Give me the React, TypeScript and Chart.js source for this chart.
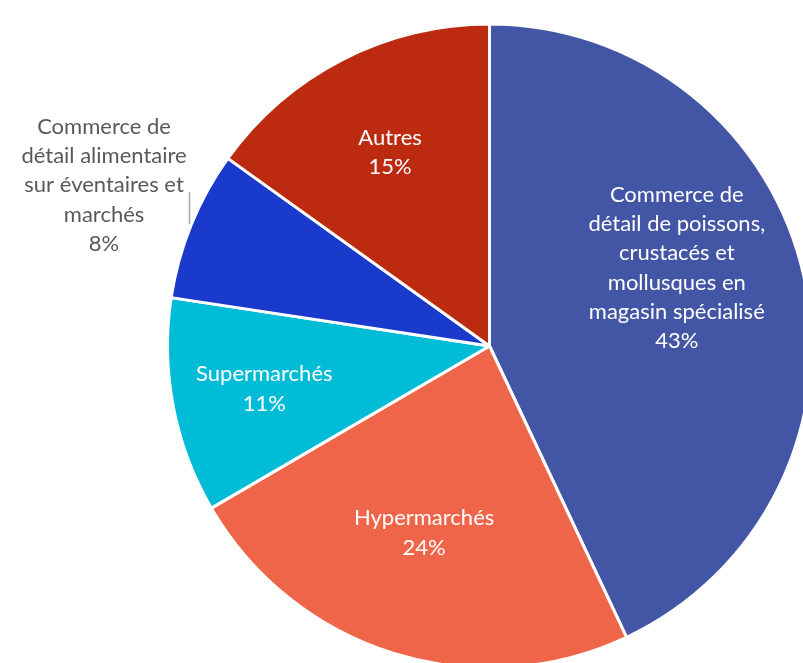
import React, { useEffect, useRef } from "react";
import { Chart, registerables } from "chart.js";

Chart.register(...registerables);

const categories: string[][] = [
  ["Commerce de", "détail de poissons,", "crustacés et", "mollusques en", "magasin spécialisé"],
  ["Hypermarchés"],
  ["Supermarchés"],
  ["Commerce de", "détail alimentaire", "sur éventaires et", "marchés"],
  ["Autres"],
];
const shares: number[] = [43.0, 23.6, 10.8, 7.5, 15.1];
const colors: string[] = ["#4355A5", "#EF6549", "#00BCD6", "#1A3ACB", "#BC2A10"];
const labelInside: boolean[] = [true, true, true, false, true];
const labelRadius: number[] = [0.63, 0.615, 0.712, 1.297, 0.676];
const labelShiftDeg: number[] = [-10, 2, 0, 0.5, 0];

const FONT = "22px Lato, 'Open Sans', sans-serif";
const LINE_H = 29.3;

const labelPlugin = {
  id: "pieLabels",
  afterDatasetsDraw(chart: any) {
    const ctx = chart.ctx as CanvasRenderingContext2D;
    const meta = chart.getDatasetMeta(0);
    const total = shares.reduce((a, b) => a + b, 0);
    ctx.save();
    ctx.font = FONT;
    ctx.textAlign = "center";
    ctx.textBaseline = "middle";
    meta.data.forEach((arc: any, i: number) => {
      const p = arc.getProps(["x", "y", "startAngle", "endAngle", "outerRadius"], true);
      const mid = (p.startAngle + p.endAngle) / 2 + (labelShiftDeg[i] * Math.PI) / 180;
      const r = p.outerRadius * labelRadius[i];
      const cx = p.x + Math.cos(mid) * r;
      const cy = p.y + Math.sin(mid) * r;
      const lines = [...categories[i], Math.round((shares[i] / total) * 100 + 1e-9) + "%"];
      const top = cy - ((lines.length - 1) * LINE_H) / 2;
      ctx.fillStyle = labelInside[i] ? "#FFFFFF" : "#595959";
      lines.forEach((ln, k) => {
        ctx.fillText(ln, cx, top + k * LINE_H);
      });
      if (!labelInside[i]) {
        const lx = Math.round(cx + 85) + 0.5;
        ctx.strokeStyle = "#A6A6A6";
        ctx.lineWidth = 1.5;
        ctx.beginPath();
        ctx.moveTo(lx, cy + 7);
        ctx.lineTo(lx, cy + 39);
        ctx.stroke();
      }
    });
    ctx.restore();
  },
};

export default function App() {
  const ref = useRef<HTMLCanvasElement | null>(null);
  useEffect(() => {
    if (!ref.current) return;
    const chart = new Chart(ref.current, {
      type: "pie",
      data: {
        labels: categories.map((c) => c.join(" ")),
        datasets: [
          {
            data: shares,
            backgroundColor: colors,
            borderColor: "#FFFFFF",
            borderWidth: 3,
          },
        ],
      },
      options: {
        animation: false,
        responsive: false,
        devicePixelRatio: 1,
        layout: { padding: { left: 166, top: 22.5, right: 187, bottom: 50.5 } },
        plugins: {
          legend: { display: false },
          tooltip: { enabled: false },
          title: { display: false },
        },
      },
      plugins: [labelPlugin],
    });
    return () => chart.destroy();
  }, []);
  return (
    <div style={{ position: "fixed", left: 0, top: 0, width: 803, height: 663, overflow: "hidden", background: "#fff" }}>
      <canvas ref={ref} width={1000} height={720} style={{ display: "block", width: 1000, height: 720 }} />
    </div>
  );
}
